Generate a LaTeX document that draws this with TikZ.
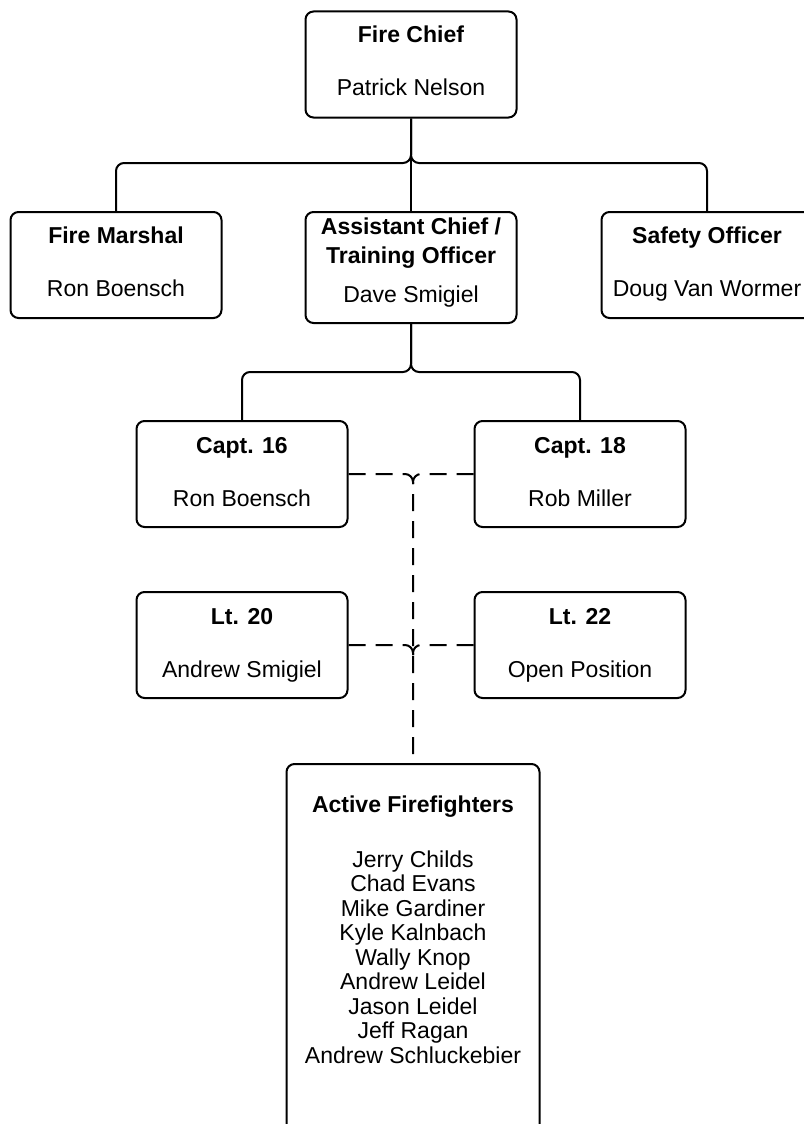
\documentclass[tikz,border=0pt]{standalone}
\usepackage{fontspec}
\setmainfont{Liberation Sans}
\begin{document}
\begin{tikzpicture}[
    x=1pt, y=-1pt,
    post/.style = {
      shape=rectangle,
      draw, line width=2pt,
      rounded corners=8pt,
      minimum width=211pt,
      minimum height=106pt,
      align=center,
      font=\fontsize{23}{24.5}\selectfont
    },
    link/.style = {line width=2pt, rounded corners=8pt},
    dashlink/.style = {link, dash pattern=on 17pt off 10pt}
  ]
  \useasboundingbox (0,0) rectangle (803,1124);
  % Chief and staff
  \node[post] (chief) at (411,64.5) {\textbf{Fire Chief}\\[28.5pt]Patrick Nelson\strut};
  \node[post] (marshal) at (116,265) {\textbf{Fire Marshal}\\[28.5pt]Ron Boensch\strut};
  \node[post, minimum height=111pt] (asst) at (411,267.5)
    {\textbf{Assistant Chief /}\\[4.5pt]\textbf{Training Officer}\\[14.5pt]Dave Smigiel\rule[-15pt]{0pt}{0pt}};
  \node[post] (safety) at (707,265) {\textbf{Safety Officer}\\[28.5pt]Doug Van Wormer\strut};
  % Officers
  \node[post] (capt16) at (242,474) {\textbf{Capt. 16}\\[28.5pt]Ron Boensch\rule[-3.5pt]{0pt}{0pt}};
  \node[post] (capt18) at (580,474) {\textbf{Capt. 18}\\[28.5pt]Rob Miller\rule[-3.5pt]{0pt}{0pt}};
  \node[post] (lt20) at (242,645) {\textbf{Lt. 20}\\[28.5pt]Andrew Smigiel\rule[-5pt]{0pt}{0pt}};
  \node[post] (lt22) at (580,645) {\textbf{Lt. 22}\\[28.5pt]Open Position\rule[-5pt]{0pt}{0pt}};
  % Firefighters
  \node[post, anchor=north, minimum width=253pt, minimum height=0pt, inner ysep=31.5pt]
    (crew) at (413,763)
    {\textbf{Active Firefighters}\\[30.5pt]
     Jerry Childs\\Chad Evans\\Mike Gardiner\\Kyle Kalnbach\\Wally Knop\\
     Andrew Leidel\\Jason Leidel\\Jeff Ragan\\Andrew Schluckebier\\[120pt]\mbox{}};

  \coordinate (bus1) at (411,163);
  \coordinate (bus2) at (411,372);
  \draw[link] (chief.south) -- (asst.north);
  \draw[link] (chief.south) -- (bus1) -| (marshal.north);
  \draw[link] (chief.south) -- (bus1) -| (safety.north);
  \draw[link] (asst.south) -- (bus2) -| (capt16.north);
  \draw[link] (asst.south) -- (bus2) -| (capt18.north);
  % Dashed lines down to the crew
  \coordinate (join1) at (crew.north |- capt16.east);
  \coordinate (join2) at (crew.north |- lt20.east);
  \draw[dashlink] (capt16.east) -| (crew.north);
  \draw[dashlink] (capt18.west) -| ([yshift=-10pt]join1);
  \draw[dashlink] (lt20.east) -| ([yshift=-10pt]join2);
  \draw[dashlink] (lt22.west) -| ([yshift=-10pt]join2);
\end{tikzpicture}
\end{document}
